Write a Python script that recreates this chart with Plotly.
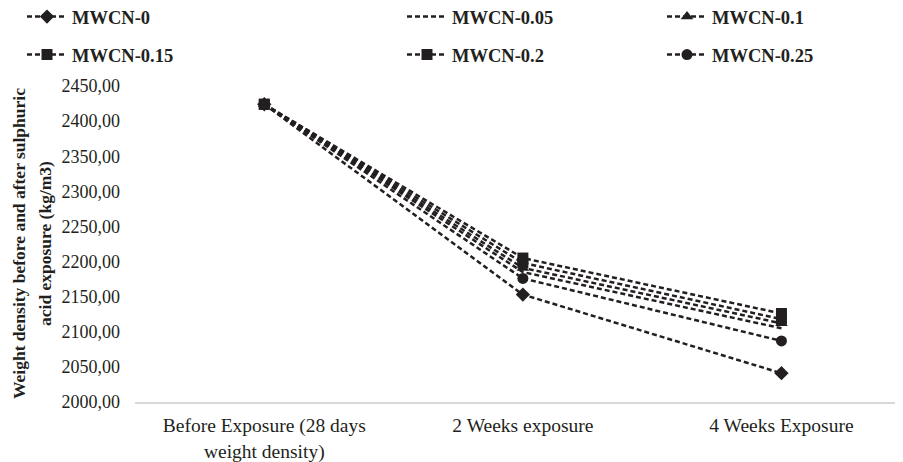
import plotly.graph_objects as go

categories = ["Before Exposure (28 days<br>weight density)", "2 Weeks exposure", "4 Weeks Exposure"]
series_names = ["MWCN-0", "MWCN-0.05", "MWCN-0.1", "MWCN-0.15", "MWCN-0.2", "MWCN-0.25"]
mwcn_0 = [2424, 2153, 2041]
mwcn_005 = [2424, 2185, 2105]
mwcn_01 = [2424, 2191, 2112]
mwcn_015 = [2424, 2198, 2118]
mwcn_02 = [2424, 2205, 2126]
mwcn_025 = [2424, 2176, 2087]
y_ticks = [2000, 2050, 2100, 2150, 2200, 2250, 2300, 2350, 2400, 2450]
y_title_lines = ["Weight density before and after sulphuric", "acid exposure (kg/m3)"]

values = [mwcn_0, mwcn_005, mwcn_01, mwcn_015, mwcn_02, mwcn_025]
symbols = ["diamond", None, "triangle-up", "square", "square", "circle"]
sizes = [11, 0, 11, 11, 11, 11]

INK = "#231f20"
FONT = "Liberation Serif, Times New Roman, serif"

# the page body adds an 8px offset; the figure is sized to fill the rest
W, H = 895, 454
ML, MR, MT, MB = 127, 0, 78, 60
PW, PH = W - ML - MR, H - MT - MB

fig = go.Figure()
legend_names = ["legend", "legend2", "legend3", "legend4", "legend5", "legend6"]
for i, (name, vals) in enumerate(zip(series_names, values)):
    mode = "lines" if symbols[i] is None else "lines+markers"
    marker = dict(color=INK, size=sizes[i], symbol=symbols[i] or "circle")
    fig.add_trace(go.Scatter(
        x=[0, 1, 2], y=vals, name=name, mode=mode,
        line=dict(color=INK, width=2.5, dash="5px,3px"),
        marker=marker, legend=legend_names[i], showlegend=True,
    ))

leg_x = [14, 394, 654]
leg_y = [9, 47]
layout_legends = {}
for i, ln in enumerate(legend_names):
    col = i % 3
    row = i // 3
    layout_legends[ln] = dict(
        xref="paper", yref="paper",
        x=(leg_x[col] - ML) / PW, y=(H - MB - leg_y[row]) / PH,
        xanchor="left", yanchor="middle",
        font=dict(family=FONT, size=18.5, color=INK, weight="bold"),
        bgcolor="rgba(0,0,0,0)", itemwidth=40, visible=True,
    )

title_x = [11, 37]
annotations = [
    dict(text=t, xref="paper", yref="paper", x=(xp - ML) / PW, y=0.5,
         xanchor="center", yanchor="middle", textangle=-90, showarrow=False,
         font=dict(family=FONT, size=17.5, color=INK, weight="bold"))
    for t, xp in zip(y_title_lines, title_x)
]

fig.update_layout(
    width=W, height=H,
    margin=dict(l=ML, r=MR, t=MT, b=MB, autoexpand=False),
    paper_bgcolor="white", plot_bgcolor="white",
    font=dict(family=FONT, size=18, color=INK),
    separators=",.", showlegend=True,
    annotations=annotations,
    **layout_legends,
)
fig.update_xaxes(
    tickmode="array", tickvals=[0, 1, 2], ticktext=categories,
    range=[-0.5, 2.47], showgrid=False, zeroline=False,
    showline=True, linecolor="#d9d9d9", linewidth=1.5, ticks="",
    tickangle=0, automargin=False, ticklabelstandoff=5,
    tickfont=dict(family=FONT, size=19.5, color=INK),
)
fig.update_yaxes(
    range=[2000, 2450], tickvals=y_ticks, tickformat=".2f",
    showgrid=False, zeroline=False, showline=False, ticks="",
    ticklabelstandoff=14, automargin=False,
    tickfont=dict(family=FONT, size=18, color=INK),
)

fig.write_html("out.html")
